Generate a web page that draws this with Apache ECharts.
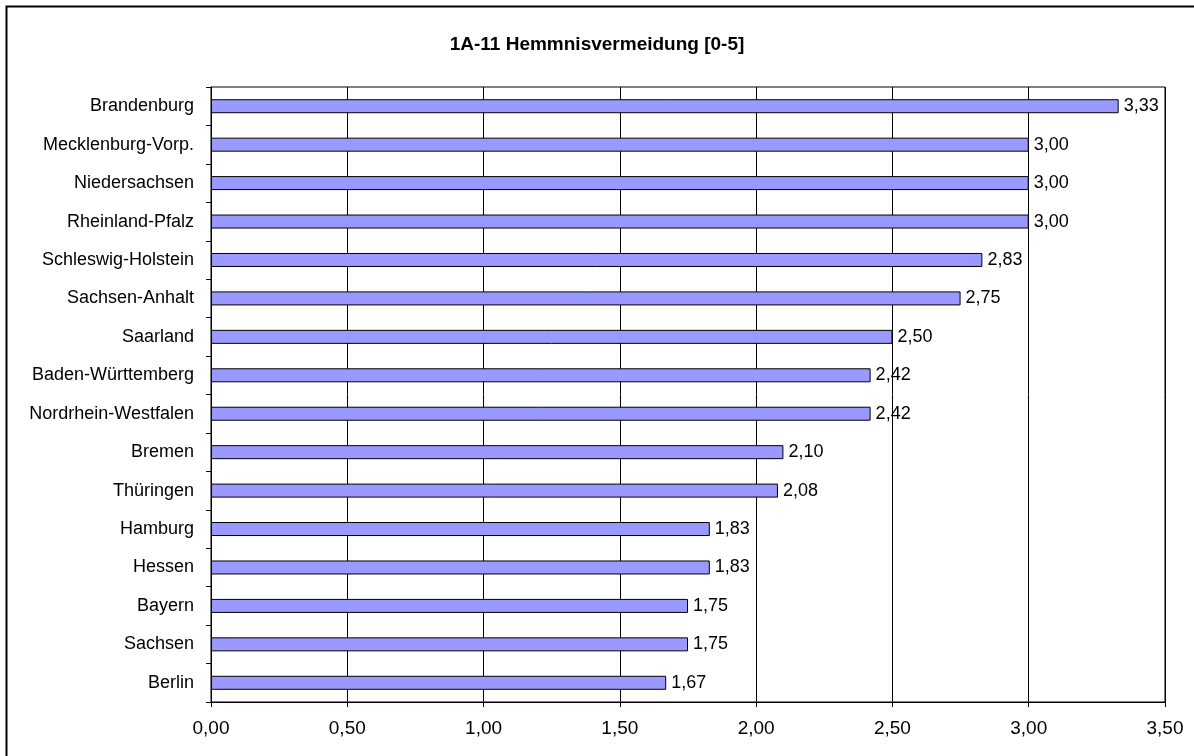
<!DOCTYPE html>
<html>
<head>
<meta charset="utf-8">
<script src="https://cdn.jsdelivr.net/npm/echarts@6/dist/echarts.min.js"></script>
<style>
    html, body { margin: 0; padding: 0; background: #fff; }
    #main { width: 1194px; height: 756px; }
</style>
</head>
<body>
<div id="main"></div>
<script>
var titleText = '1A-11 Hemmnisvermeidung [0-5]'
var laender = ['Brandenburg', 'Mecklenburg-Vorp.', 'Niedersachsen', 'Rheinland-Pfalz',
    'Schleswig-Holstein', 'Sachsen-Anhalt', 'Saarland', 'Baden-Württemberg',
    'Nordrhein-Westfalen', 'Bremen', 'Thüringen', 'Hamburg', 'Hessen', 'Bayern',
    'Sachsen', 'Berlin']
var werte = [3.33, 3.00, 3.00, 3.00, 2.83, 2.75, 2.50, 2.42, 2.42, 2.10, 2.08, 1.83, 1.83, 1.75, 1.75, 1.67]
var xMin = 0, xMax = 3.5, xStep = 0.5

function komma(v, n) {
    return v.toFixed(n).replace('.', ',')
}

var myChart = echarts.init(document.getElementById('main'))
var option = {
    animation: false,
    textStyle: { fontFamily: '"Liberation Sans", Arial, sans-serif' },
    graphic: [{
        type: 'rect',
        shape: { x: 6.5, y: 6.5, width: 1220, height: 800 },
        style: { fill: 'none', stroke: '#000', lineWidth: 2 }
    }],
    title: {
        text: titleText,
        left: 'center',
        top: 30,
        textStyle: { fontSize: 19, fontWeight: 'bold', color: '#000' }
    },
    grid: {
        left: 211, top: 87, right: 29, bottom: 54,
        show: true,
        borderColor: '#000',
        borderWidth: 1,
        backgroundColor: 'transparent'
    },
    xAxis: {
        type: 'value',
        min: xMin, max: xMax, interval: xStep,
        axisLine: { show: true, lineStyle: { color: '#000', width: 1 } },
        axisTick: { show: true, length: 5, lineStyle: { color: '#000' } },
        axisLabel: {
            color: '#000', fontSize: 19, margin: 17,
            formatter: function (v) { return komma(v, 2) }
        },
        splitLine: { show: true, lineStyle: { color: '#000', width: 1 } }
    },
    yAxis: {
        type: 'category',
        data: laender,
        inverse: true,
        axisLine: { show: true, lineStyle: { color: '#000', width: 1 } },
        axisTick: { show: true, length: 5, lineStyle: { color: '#000' } },
        axisLabel: { color: '#000', fontSize: 18, margin: 17 },
        splitLine: { show: false }
    },
    series: [{
        type: 'bar',
        data: werte,
        barWidth: 14,
        itemStyle: { color: '#9999ff', borderColor: '#000', borderWidth: 1 },
        label: {
            show: true,
            position: 'right',
            distance: 5,
            color: '#000',
            fontSize: 18,
            formatter: function (p) { return komma(p.value, 2) }
        }
    }]
}
myChart.setOption(option)
</script>
</body>
</html>
